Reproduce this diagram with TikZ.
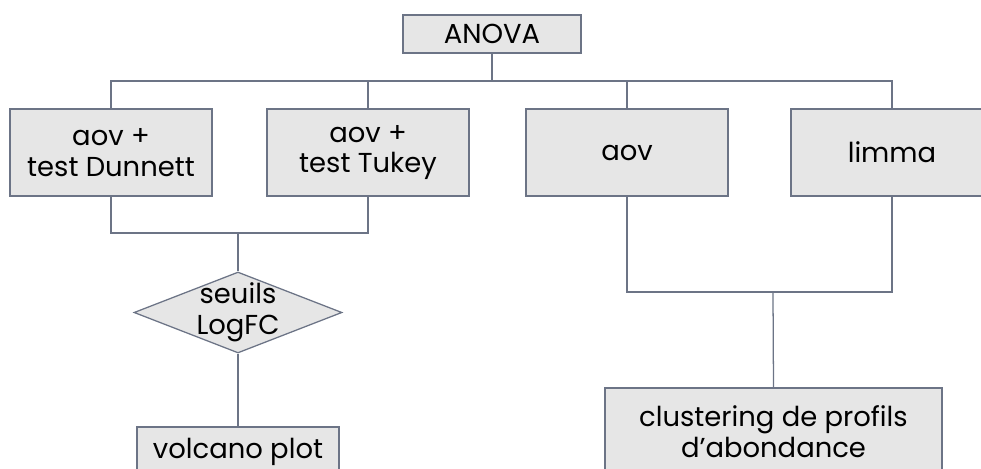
\documentclass[tikz,border=0pt]{standalone}
\usepackage{fontspec}
\setmainfont{Poppins}
\usetikzlibrary{shapes.geometric}
\definecolor{edgegray}{RGB}{108,116,134}
\definecolor{boxgray}{RGB}{230,230,230}

\begin{document}
\begin{tikzpicture}
  [line width=0.9pt,draw=edgegray,
   every node/.style={draw=edgegray,fill=boxgray,align=center,inner sep=0pt,
     font=\fontsize{19.5}{22}\selectfont},
   box/.style={rectangle,minimum width=5.05cm,minimum height=2.175cm},
   test/.style={diamond,shape aspect=2.57,inner sep=-3pt,minimum width=5.2cm,minimum height=2.025cm}]

  \useasboundingbox (0,0) rectangle (24.525,-11.725);

  \node (a0) at (12.3,-0.85) [rectangle,minimum width=4.45cm,minimum height=0.95cm] {ANOVA};

  \node[box] (a1) at (2.775,-3.8125) {aov +\\test Dunnett};
  \node[box] (a2) at (9.2,-3.8125)   {aov +\\test Tukey};
  \node[box] (a3) at (15.675,-3.8125) {aov};
  \node[box] (a4) at (22.3,-3.8125)  {limma};

  \node[test] (a5) at (5.95,-7.8125) {seuils\\LogFC};
  \node[box,minimum height=1.25cm] (a6) at (5.95,-11.3) {volcano plot};
  \node[box,minimum width=8.425cm] (a7) at (19.3375,-10.7875) {clustering de profils\\d’abondance};

  \coordinate (c0) at (12.3,-2.025);
  \coordinate (c1) at (5.95,-5.825);
  \coordinate (c2) at (19.325,-7.3);

  \draw[edgegray] (a0) -- (c0);
  \draw[edgegray] (a1.north) |- (c0);
  \draw[edgegray] (a4.north) |- (c0);
  \draw[edgegray] (a2.north) -- (a2.north |- c0);
  \draw[edgegray] (a3.north) -- (a3.north |- c0);

  \draw[edgegray] (a1.south) |- (c1);
  \draw[edgegray] (a2.south) |- (c1);
  \draw[edgegray] (c1) -- (a5.north);
  \draw[edgegray] (a5.south) -- (a6.north);

  \draw[edgegray] (a3.south) |- (c2);
  \draw[edgegray] (a4.south) |- (c2);
  \draw[edgegray] (c2) -- (a7.north);

\end{tikzpicture}
\end{document}
